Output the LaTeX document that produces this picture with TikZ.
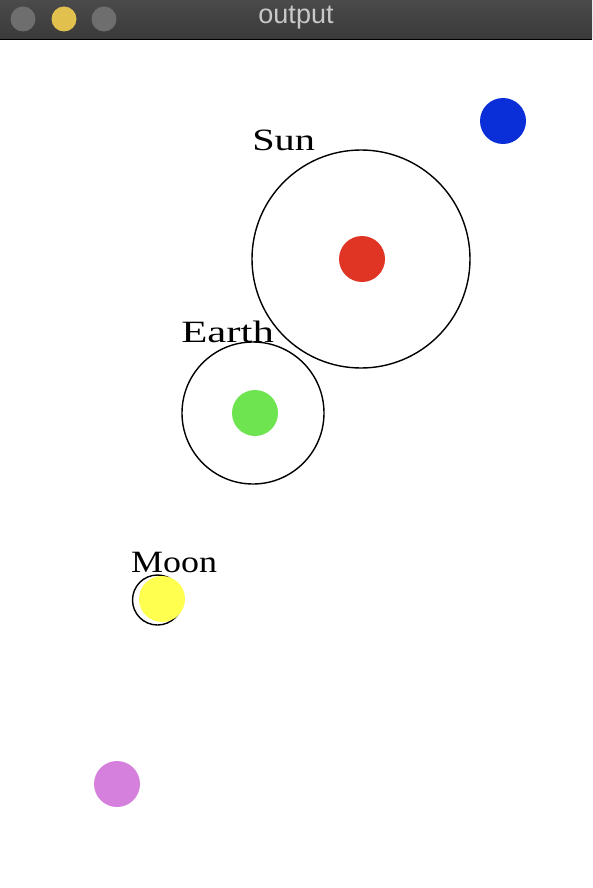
\documentclass[tikz,border=0pt]{standalone}
\usepackage{fontspec}
\setmainfont{Liberation Serif}
\newfontfamily\titlefont{Liberation Sans}
\definecolor{barTop}{HTML}{4A4A4A}
\definecolor{barBot}{HTML}{3A3A3A}
\definecolor{btnGray}{HTML}{6E6E6E}
\definecolor{btnYellow}{HTML}{E2C04E}
\definecolor{titleText}{HTML}{C8C8C8}
\definecolor{sunRed}{HTML}{E03424}
\definecolor{earthGreen}{HTML}{6DE450}
\definecolor{moonYellow}{HTML}{FFFF50}
\definecolor{pinkDot}{HTML}{D680DE}
\definecolor{blueDot}{HTML}{0A2FD8}
\tikzset{
  orbit/.style={draw=black, line width=1.4pt, fill=none},
  body/.style={circle, inner sep=0pt, minimum size=46pt, draw=none},
  lbl/.style={anchor=base west, inner sep=0pt, font=\fontsize{31}{31}\selectfont},
  btn/.style={circle, inner sep=0pt, minimum size=25pt, draw=none}
}
\begin{document}
\begin{tikzpicture}[x=1pt,y=-1pt]
\useasboundingbox (0,0) rectangle (592,888);
\fill[white] (0,0) rectangle (592,888);
% title bar
\shade[top color=barTop, bottom color=barBot] (0,0) rectangle (592,39);
\fill[black] (0,39) rectangle (592,40.5);
\node[btn, fill=btnGray] (b1) at (23,19) {};
\node[btn, fill=btnYellow] (b2) at (64,19) {};
\node[btn, fill=btnGray] (b3) at (104,19) {};
\node[text=titleText, font=\titlefont\fontsize{27}{27}\selectfont, inner sep=0pt] (title) at (296,18) {output};
% sun
\node[circle, orbit, minimum size=218pt, inner sep=0pt] (sunorbit) at (361,259) {};
\node[body, fill=sunRed] (sun) at (362,259) {};
\node[lbl, xscale=1.3] (sunlbl) at (252,150) {Sun};
% earth
\node[circle, orbit, minimum size=142pt, inner sep=0pt] (earthorbit) at (253,413) {};
\node[body, fill=earthGreen] (earth) at (255,413) {};
\node[lbl, xscale=1.38] (earthlbl) at (181,342) {Earth};
% moon
\node[circle, orbit, minimum size=50pt, inner sep=0pt] (moonorbit) at (157.5,600) {};
\node[body, fill=moonYellow] (moon) at (162,599) {};
\node[lbl, xscale=1.16] (moonlbl) at (131,572) {Moon};
% other dots
\node[body, fill=pinkDot] (pink) at (117,784) {};
\node[body, fill=blueDot] (blue) at (503,121) {};
\end{tikzpicture}
\end{document}
